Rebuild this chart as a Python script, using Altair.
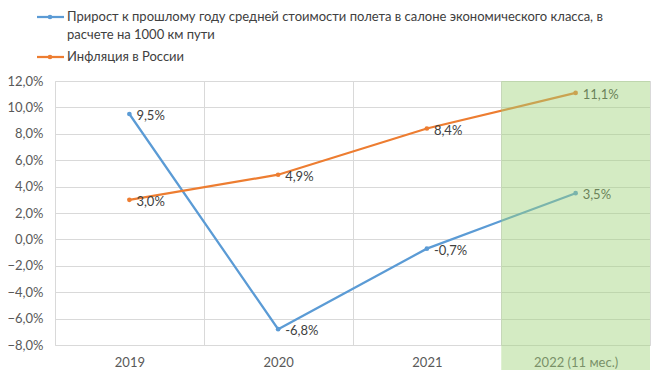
import altair as alt
import pandas as pd

years = ["2019", "2020", "2021", "2022 (11 мес.)"]
price_growth = [9.5, -6.8, -0.7, 3.5]
inflation = [3.0, 4.9, 8.4, 11.1]
series_names = [
    "Прирост к прошлому году средней стоимости полета в салоне экономического класса, в\nрасчете на 1000 км пути",
    "Инфляция в России",
]
series_colors = ["#5b9bd5", "#ed7d31"]
highlight_year = "2022 (11 мес.)"
y_ticks = [-8, -6, -4, -2, 0, 2, 4, 6, 8, 10, 12]

rows = []
for s, vals in zip(series_names, [price_growth, inflation]):
    for y, v in zip(years, vals):
        rows.append({"year": y, "value": v, "series": s,
                     "label": f"{v:.1f}".replace(".", ",") + "%"})
df = pd.DataFrame(rows)

FONT = "Lato"
W, H = 595, 264

x_enc = alt.X("year:N", sort=years, title=None,
              scale=alt.Scale(paddingInner=0, paddingOuter=0),
              axis=alt.Axis(tickBand="extent", grid=True, gridColor="#d9d9d9",
                            ticks=False, domain=False, labelAngle=0,
                            labelFont=FONT, labelFontSize=13, labelColor="#595959",
                            labelPadding=11))
y_enc = alt.Y("value:Q", title=None,
              scale=alt.Scale(domain=[-8, 12], nice=False, zero=False),
              axis=alt.Axis(values=y_ticks, grid=True, gridColor="#d9d9d9",
                            ticks=False, domain=False, labelOverlap=False,
                            labelFlush=False, tickCount=11,
                            labelExpr="replace(format(datum.value, '.1f'), '.', ',') + '%'",
                            labelFont=FONT, labelFontSize=13, labelColor="#595959",
                            labelPadding=12))
color_enc = alt.Color("series:N", scale=alt.Scale(domain=series_names, range=series_colors),
                      legend=None)

base = alt.Chart(df)
lines = base.mark_line(strokeWidth=2.25).encode(x=x_enc, y=y_enc, color=color_enc)
points = base.mark_point(filled=True, size=22, opacity=1).encode(x="year:N", y="value:Q", color=color_enc)
labels = base.mark_text(align="left", baseline="middle", dx=7, dy=2,
                        font=FONT, fontSize=13, color="#404040").encode(
    x="year:N", y="value:Q", text="label:N")

hl = alt.Chart(pd.DataFrame({"year": [highlight_year]})).mark_rect(
    color="#9fd37a", opacity=0.45, clip=False).encode(
    x="year:N", y=alt.value(0), y2=alt.value(291))

legend_layers = []
legend_y = [-64, -24]
for name, col, ly in zip(series_names, series_colors, legend_y):
    d = pd.DataFrame({"name": [name]})
    legend_layers.append(alt.Chart(d).mark_rule(color=col, strokeWidth=2.25).encode(
        x=alt.value(-18), x2=alt.value(9), y=alt.value(ly)))
    legend_layers.append(alt.Chart(d).mark_point(color=col, filled=True, size=22, opacity=1).encode(
        x=alt.value(-5), y=alt.value(ly)))
    for i, line_text in enumerate(name.split("\n")):
        td = pd.DataFrame({"t": [line_text]})
        legend_layers.append(alt.Chart(td).mark_text(align="left", baseline="middle",
                                                     font=FONT, fontSize=13, color="#404040").encode(
            x=alt.value(12), y=alt.value(ly + i * 18), text="t:N"))

chart = alt.layer(lines, points, labels, hl, *legend_layers).properties(
    width=W, height=H,
    autosize=alt.AutoSizeParams(type="none"),
    padding={"left": 47, "top": 73, "right": 2, "bottom": 25},
).configure_view(stroke=None).configure(background="white")

chart.save("out.html", embed_options={"renderer": "svg", "actions": False})
